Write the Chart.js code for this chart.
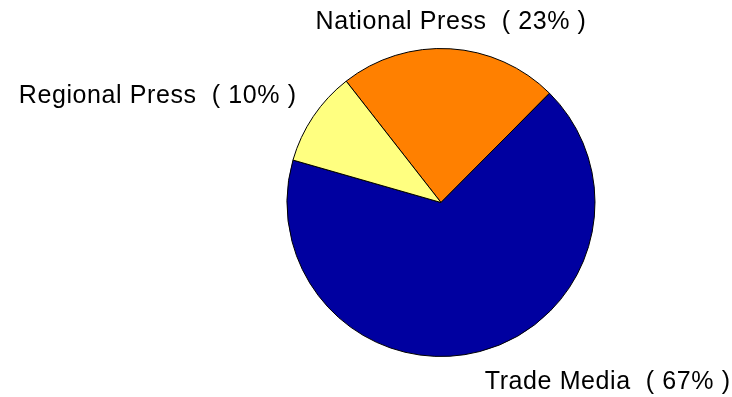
<!DOCTYPE html>
<html>
<head>
<meta charset="utf-8">
<title>Media share</title>
<script src="https://cdn.jsdelivr.net/npm/chart.js@4/dist/chart.umd.min.js"></script>
<style>
    html, body { margin: 0; padding: 0; background: #fff; }
    #wrap { width: 732px; height: 397px; position: relative; }
</style>
</head>
<body>
<div id="wrap"><canvas id="mediaPie"></canvas></div>
<script>
// slices in drawing order (clockwise from the start angle)
const sliceLabels = ['National Press', 'Trade Media', 'Regional Press'];
const sliceShares = [23, 67, 10];
const sliceColors = ['#ff8000', '#0000a0', '#ffff80'];

// text labels outside the pie, placed along each slice's mid angle
const outsideLabels = {
    id: 'outsideLabels',
    afterDatasetsDraw(chart) {
        const { ctx } = chart;
        const meta = chart.getDatasetMeta(0);
        ctx.save();
        ctx.font = '25px "Liberation Sans", Arial, sans-serif';
        ctx.letterSpacing = '0.6px';
        ctx.fillStyle = '#000';
        meta.data.forEach((arc, i) => {
            const mid = (arc.startAngle + arc.endAngle) / 2;
            const r = arc.outerRadius * 1.1;
            let x = arc.x + Math.cos(mid) * r;
            let y = arc.y + Math.sin(mid) * r;
            const cx = Math.cos(mid);
            if (Math.abs(cx) < 0.1) {
                ctx.textAlign = 'center';
            } else if (cx > 0) {
                ctx.textAlign = 'left';
                x += 1;
            } else {
                ctx.textAlign = 'right';
                x -= 4;
            }
            if (Math.sin(mid) > 0) {
                ctx.textBaseline = 'top';
                y += 3;
            } else {
                ctx.textBaseline = 'bottom';
                y += 1;
            }
            ctx.fillText(sliceLabels[i] + '  ( ' + sliceShares[i] + '% )', x, y);
        });
        ctx.restore();
    }
};

new Chart(document.getElementById('mediaPie'), {
    type: 'pie',
    data: {
        labels: sliceLabels,
        datasets: [{
            data: sliceShares,
            backgroundColor: sliceColors,
            borderColor: '#000',
            borderWidth: 1,
            hoverOffset: 0
        }]
    },
    options: {
        responsive: true,
        maintainAspectRatio: false,
        devicePixelRatio: 1,
        animation: false,
        rotation: -38,
        layout: { padding: { top: 48, bottom: 40, left: 150, right: 0 } },
        plugins: {
            legend: { display: false },
            tooltip: { enabled: false }
        }
    },
    plugins: [outsideLabels]
});
</script>
</body>
</html>
